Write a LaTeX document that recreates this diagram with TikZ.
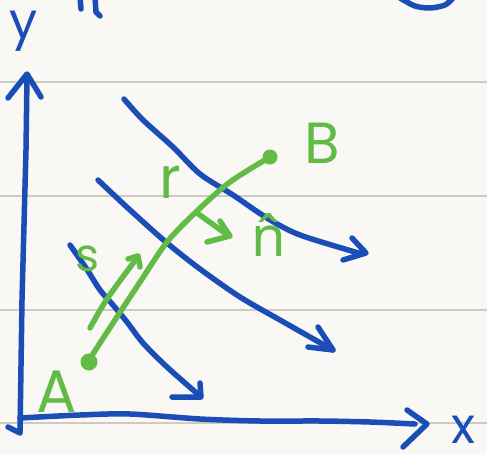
\documentclass[tikz,border=0pt]{standalone}
\usepackage{fontspec}
\setmainfont{Poppins}
\newfontfamily\notosans{Noto Sans}
\definecolor{ink}{HTML}{1B4DB6}
\definecolor{grn}{HTML}{63BB47}
\definecolor{paper}{HTML}{FAF8F4}
\definecolor{rulec}{HTML}{CFCBC4}
\begin{document}
\begin{tikzpicture}[x=1pt,y=-1pt,
  bl/.style={draw=ink,line width=5.5pt,line cap=round,line join=round},
  gr/.style={draw=grn,line width=5.5pt,line cap=round,line join=round},
  lab/.style={inner sep=0pt,font=\fontsize{#1}{#1}\selectfont}]
\fill[paper] (0,0) rectangle (487,455);
\useasboundingbox (0,0) rectangle (487,455);
% ruled lines
\foreach \yy in {82,196,310,423} \draw[rulec,line width=1.5pt] (0,\yy) -- (487,\yy);
% fragments at top edge
\draw[bl] (80,-3) -- (81,9);
\draw[bl] (95,-3) -- (96,12) -- (100,16);
\draw[bl] plot[smooth] coordinates {(400,-2) (415,6) (430,8) (445,5) (453,-2)};
% axes
\draw[bl] (20,432) -- (22,300) -- (26,150) -- (27,76);
\draw[bl] (8,98) -- (27,74) -- (41,97);
\draw[bl] (8,427) -- (20,433);
\draw[bl] plot[smooth] coordinates {(20,418) (80,415) (130,414) (200,419) (260,421) (320,421) (370,422) (415,424)};
\draw[bl] (407,410) -- (427,424) -- (403,447);
\node[lab=50,text=ink] (ylab) at (24,31) {y};
\node[lab=50,text=ink] (xlab) at (463,430) {x};
% level curves
\draw[bl] plot[smooth] coordinates {(124,99) (143,120) (173,147) (200,174) (233,195) (267,218) (300,235) (362,254)};
\draw[bl] (352,238) -- (366,253) -- (343,260);
\draw[bl] plot[smooth] coordinates {(98,180) (130,210) (167,243) (200,269) (240,297) (280,320) (333,350)};
\draw[bl] (318,327) -- (333,350) -- (308,347);
\draw[bl] plot[smooth] coordinates {(70,245) (86,268) (100,290) (113,305) (127,322) (143,343) (167,367) (200,396)};
\draw[bl] (172,397) -- (201,397) -- (200,383);
% path A -> B
\coordinate (A) at (89,362);
\coordinate (B) at (270,157);
\draw[gr] plot[smooth] coordinates {(89,360) (100,343) (115,320) (140,282) (167,242) (197,211) (230,182) (270,157)};
\fill[grn] (A) circle (8.5);
\fill[grn] (B) circle (7.5);
\node[lab=60,text=grn] (Alab) at (57,392) {A};
\node[lab=58,text=grn] (Blab) at (322,143) {B};
% s arrow
\draw[gr] plot[smooth] coordinates {(90,328) (105,302) (122,278) (137,258)};
\draw[gr] (128,259) -- (138,256) -- (140,267);
\node[lab=46,text=grn] (slab) at (88,259) {s};
% n arrow
\draw[gr] (197,213) -- (229,236);
\draw[gr] (220,221) -- (230,236) -- (207,242);
\node[lab=58,text=grn] (rlab) at (170,182) {r};
\node[lab=56,text=grn,anchor=base,font=\notosans\fontsize{56}{56}\selectfont] (nlab) at (269,256) {n̂};
\end{tikzpicture}
\end{document}
